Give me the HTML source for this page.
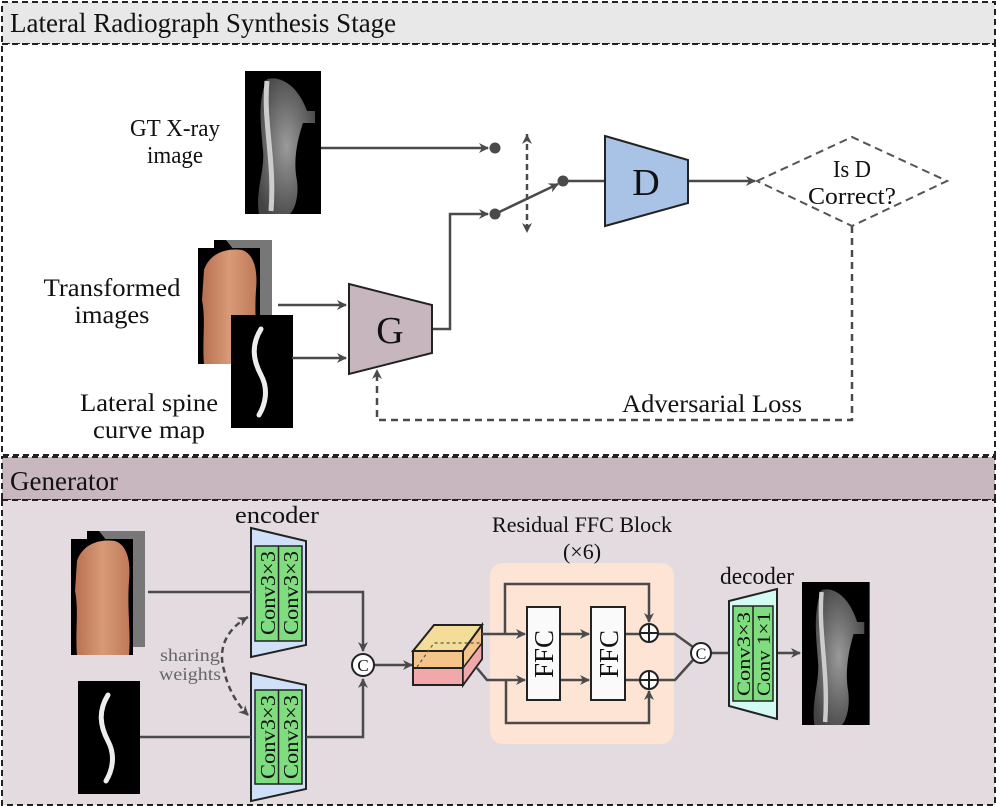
<!DOCTYPE html>
<html><head><meta charset="utf-8"><style>html,body{margin:0;padding:0;background:#fff}svg{display:block}text{font-family:"Liberation Serif",serif;fill:#111}</style></head><body>
<svg width="997" height="807" viewBox="0 0 997 807" xmlns="http://www.w3.org/2000/svg">
<defs>
<marker id="a" markerWidth="10" markerHeight="10" refX="9" refY="5" orient="auto" markerUnits="userSpaceOnUse"><path d="M0,0 L10,5 L0,10 L3,5z" fill="#4a4a4a"/></marker>
<marker id="as" markerWidth="10" markerHeight="10" refX="0" refY="5" orient="auto" markerUnits="userSpaceOnUse"><path d="M10,0 L0,5 L10,10 L7,5z" fill="#4a4a4a"/></marker>
<linearGradient id="skin" x1="0" x2="1"><stop offset="0" stop-color="#b87050"/><stop offset=".5" stop-color="#d89a78"/><stop offset="1" stop-color="#c07a58"/></linearGradient>
<radialGradient id="xr" cx=".5" cy=".5" r=".6"><stop offset="0" stop-color="#9a9a9a"/><stop offset="1" stop-color="#444"/></radialGradient>
<g id="xray"><rect x="0" y="0" width="76" height="143" fill="#000"/><path d="M22,8 C40,4 55,20 62,40 L70,40 L70,52 L58,52 C52,70 48,90 52,110 C54,125 50,138 45,143 L14,143 C10,120 20,100 18,80 C16,55 12,30 22,8z" fill="url(#xr)"/><path d="M22,10 C18,50 30,90 26,140" stroke="#ccc" stroke-width="5" fill="none"/></g>
<g id="back"><rect x="16" y="0" width="58" height="116" fill="#000"/><path d="M28,0 L74,0 L74,116 L60,116 L60,40 Z" fill="#777"/><rect x="0" y="8" width="62" height="116" fill="#000"/><path d="M6,30 C12,12 30,8 44,10 C56,14 60,30 58,50 C56,80 60,100 58,124 L6,124 C4,100 8,80 4,60 Z" fill="url(#skin)"/></g>
<g id="spine"><rect x="0" y="0" width="62" height="113" fill="#000"/><path d="M30,14 C20,30 22,45 30,60 C38,75 34,90 28,100" stroke="#eee" stroke-width="5" fill="none" stroke-linecap="round"/></g>
</defs>

<rect x="2" y="2" width="993" height="42" fill="#e8e8e8" stroke="#222" stroke-width="2" stroke-dasharray="6,4"/>
<text x="10" y="32" font-size="27">Lateral Radiograph Synthesis Stage</text>
<rect x="2" y="44" width="993" height="411" fill="#fff" stroke="#222" stroke-width="2" stroke-dasharray="6,4"/>

<use href="#xray" x="245" y="71"/>
<text x="175" y="136" font-size="24" text-anchor="middle" textLength="90" lengthAdjust="spacingAndGlyphs">GT X-ray</text>
<text x="175" y="163" font-size="24" text-anchor="middle" textLength="56" lengthAdjust="spacingAndGlyphs">image</text>
<use href="#back" x="198" y="240"/>
<use href="#spine" x="231" y="315"/>
<text x="112" y="296" font-size="25" text-anchor="middle" textLength="137" lengthAdjust="spacingAndGlyphs">Transformed</text>
<text x="112" y="323" font-size="25" text-anchor="middle" textLength="75" lengthAdjust="spacingAndGlyphs">images</text>
<text x="149" y="411" font-size="25" text-anchor="middle" textLength="138" lengthAdjust="spacingAndGlyphs">Lateral spine</text>
<text x="149" y="438" font-size="25" text-anchor="middle" textLength="112" lengthAdjust="spacingAndGlyphs">curve map</text>

<g stroke="#4a4a4a" stroke-width="2.5" fill="none">
<line x1="321" y1="148" x2="488" y2="148" marker-end="url(#a)"/>
<line x1="278" y1="305" x2="346" y2="305" marker-end="url(#a)"/>
<line x1="292" y1="358" x2="346" y2="358" marker-end="url(#a)"/>
<polyline points="432,329 450,329 450,214 488,214" marker-end="url(#a)"/>
<line x1="495" y1="214" x2="558" y2="184" marker-end="url(#a)"/>
<line x1="563" y1="181" x2="605" y2="181"/>
<line x1="688" y1="181" x2="755" y2="181" marker-end="url(#a)"/>
<line x1="527" y1="134" x2="527" y2="232" stroke-dasharray="6,4" marker-end="url(#a)" marker-start="url(#as)"/>
<polyline points="852,226 852,420 377,420 377,370" stroke-dasharray="7,5" marker-end="url(#a)"/>
</g>
<circle cx="495" cy="148" r="5.5" fill="#4a4a4a"/>
<circle cx="495" cy="214" r="5.5" fill="#4a4a4a"/>
<circle cx="563" cy="181" r="5.5" fill="#4a4a4a"/>
<polygon points="605,136 688,160 688,203 605,226" fill="#a9c3e6" stroke="#222" stroke-width="2"/>
<text x="646" y="195" font-size="38" text-anchor="middle">D</text>
<polygon points="349,284 432,305 432,353 349,374" fill="#c8b6bf" stroke="#222" stroke-width="2"/>
<text x="390" y="343" font-size="38" text-anchor="middle">G</text>
<polygon points="757,181 852,137 947,181 852,226" fill="#fff" stroke="#555" stroke-width="2" stroke-dasharray="8,5"/>
<text x="852" y="177" font-size="24" text-anchor="middle" textLength="38" lengthAdjust="spacingAndGlyphs">Is D</text>
<text x="852" y="204" font-size="24" text-anchor="middle" textLength="88" lengthAdjust="spacingAndGlyphs">Correct?</text>
<text x="712" y="412" font-size="25" text-anchor="middle" textLength="180" lengthAdjust="spacingAndGlyphs">Adversarial Loss</text>

<rect x="2" y="457" width="993" height="43" fill="#c9b7bf" stroke="#222" stroke-width="2" stroke-dasharray="6,4"/>
<text x="10" y="490" font-size="27">Generator</text>
<rect x="2" y="500" width="993" height="305" fill="#e3dbdf" stroke="#222" stroke-width="2" stroke-dasharray="6,4"/>

<use href="#back" x="71" y="531"/>
<use href="#spine" x="78" y="681"/>
<text x="277" y="523" font-size="24" text-anchor="middle" textLength="84" lengthAdjust="spacingAndGlyphs">encoder</text>
<g>
<polygon points="251,528 306,541 306,645 251,657" fill="#cfe0f8" stroke="#222" stroke-width="2"/>
<rect x="255" y="546" width="47" height="95" fill="#7fdc7f" stroke="#222" stroke-width="1.5"/>
<line x1="278.5" y1="546" x2="278.5" y2="641" stroke="#222" stroke-width="1.5"/>
<text transform="translate(275,593) rotate(-90)" font-size="21" text-anchor="middle" textLength="84" lengthAdjust="spacingAndGlyphs">Conv3×3</text>
<text transform="translate(298,593) rotate(-90)" font-size="21" text-anchor="middle" textLength="84" lengthAdjust="spacingAndGlyphs">Conv3×3</text>
<polygon points="251,673 306,685 306,789 251,801" fill="#cfe0f8" stroke="#222" stroke-width="2"/>
<rect x="255" y="690" width="47" height="94" fill="#7fdc7f" stroke="#222" stroke-width="1.5"/>
<line x1="278.5" y1="690" x2="278.5" y2="784" stroke="#222" stroke-width="1.5"/>
<text transform="translate(275,737) rotate(-90)" font-size="21" text-anchor="middle" textLength="84" lengthAdjust="spacingAndGlyphs">Conv3×3</text>
<text transform="translate(298,737) rotate(-90)" font-size="21" text-anchor="middle" textLength="84" lengthAdjust="spacingAndGlyphs">Conv3×3</text>
</g>
<text x="190" y="661" font-size="18" text-anchor="middle" style="fill:#666" textLength="60" lengthAdjust="spacingAndGlyphs">sharing</text>
<text x="190" y="680" font-size="18" text-anchor="middle" style="fill:#666" textLength="62" lengthAdjust="spacingAndGlyphs">weights</text>

<g stroke="#4a4a4a" stroke-width="2.5" fill="none">
<line x1="148" y1="592" x2="251" y2="592"/>
<line x1="140" y1="737" x2="251" y2="737"/>
<polyline points="306,592 363,592 363,651" marker-end="url(#a)"/>
<polyline points="306,737 363,737 363,679" marker-end="url(#a)"/>
<line x1="374" y1="665" x2="412" y2="665" marker-end="url(#a)"/>
<path d="M248,617 C225,630 218,650 224,670 C228,690 238,705 248,715" stroke-dasharray="6,4" marker-end="url(#a)" marker-start="url(#as)"/>
</g>
<circle cx="363" cy="665" r="11" fill="#fff" stroke="#222" stroke-width="2"/>
<text x="363" y="671" font-size="17" text-anchor="middle">C</text>

<rect x="490" y="563" width="184" height="181" rx="13" fill="#fde4d4"/>
<text x="582" y="532" font-size="22" text-anchor="middle" textLength="180" lengthAdjust="spacingAndGlyphs">Residual FFC Block</text>
<text x="582" y="559" font-size="22" text-anchor="middle">(×6)</text>
<polygon points="413,651 434,625 482,625 482,643 463,668 413,668" fill="#f5c88a"/>
<polygon points="413,651 434,625 482,625 463,651" fill="#f3dd98" stroke="#222" stroke-width="2"/>
<rect x="413" y="651" width="50" height="17" fill="#f5c488" stroke="#222" stroke-width="2"/>
<rect x="413" y="668" width="50" height="17" fill="#f0a8aa" stroke="#222" stroke-width="2"/>
<polygon points="463,651 482,625 482,659 463,685" fill="#f5c488" stroke="#222" stroke-width="2"/>
<polygon points="463,668 482,643 482,659 463,685" fill="#f0a8aa" stroke="#222" stroke-width="1.5"/>
<path d="M417,667 L434,643 L482,643" stroke="#555" stroke-width="1.2" stroke-dasharray="3,3" fill="none"/>

<g stroke="#4a4a4a" stroke-width="2.5" fill="none">
<line x1="482" y1="634" x2="525" y2="634" marker-end="url(#a)"/>
<polyline points="477,668 487,680 525,680" marker-end="url(#a)"/>
<polyline points="505,634 505,584 649,584 649,622" marker-end="url(#a)"/>
<polyline points="506,680 506,723 649,723 649,691" marker-end="url(#a)"/>
<line x1="560" y1="634" x2="589" y2="634" marker-end="url(#a)"/>
<line x1="560" y1="680" x2="589" y2="680" marker-end="url(#a)"/>
<line x1="625" y1="634" x2="640" y2="634"/>
<line x1="625" y1="680" x2="640" y2="680"/>
<polyline points="658,634 675,634 693,647"/>
<polyline points="658,680 675,680 693,660"/>
<line x1="711" y1="653" x2="730" y2="653"/>
<line x1="777" y1="653" x2="800" y2="653" marker-end="url(#a)"/>
</g>
<rect x="527" y="607" width="33" height="93" fill="#fafafa" stroke="#222" stroke-width="2"/>
<rect x="591" y="607" width="34" height="93" fill="#fafafa" stroke="#222" stroke-width="2"/>
<text transform="translate(553,654) rotate(-90)" font-size="27" text-anchor="middle">FFC</text>
<text transform="translate(618,654) rotate(-90)" font-size="27" text-anchor="middle">FFC</text>
<g stroke="#222" stroke-width="2" fill="#fff">
<circle cx="649" cy="633" r="9"/><circle cx="649" cy="680" r="9"/>
<path d="M640,633 H658 M649,624 V642 M640,680 H658 M649,671 V689" fill="none"/>
</g>
<circle cx="701" cy="653" r="10" fill="#fff" stroke="#222" stroke-width="2"/>
<text x="701" y="659" font-size="16" text-anchor="middle">C</text>

<text x="757" y="584" font-size="24" text-anchor="middle" textLength="74" lengthAdjust="spacingAndGlyphs">decoder</text>
<polygon points="729,601 777,589 777,719 729,706" fill="#d4fbf3" stroke="#222" stroke-width="2"/>
<rect x="733" y="606" width="40" height="95" fill="#7fdc7f" stroke="#222" stroke-width="1.5"/>
<line x1="753" y1="606" x2="753" y2="701" stroke="#222" stroke-width="1.5"/>
<text transform="translate(750,654) rotate(-90)" font-size="19" text-anchor="middle" textLength="84" lengthAdjust="spacingAndGlyphs">Conv3×3</text>
<text transform="translate(770,654) rotate(-90)" font-size="19" text-anchor="middle" textLength="84" lengthAdjust="spacingAndGlyphs">Conv 1×1</text>
<g transform="translate(802,582) scale(0.89,1)"><use href="#xray"/></g>
</svg>
</body></html>
